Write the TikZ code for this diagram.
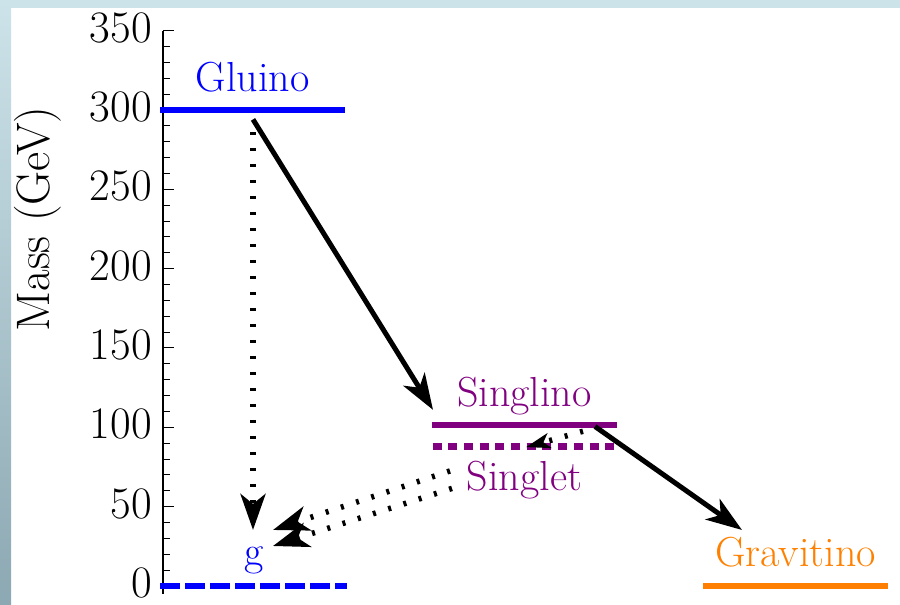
\documentclass[tikz,border=0pt]{standalone}
\usetikzlibrary{arrows.meta, positioning}
\definecolor{bandtop}{RGB}{205,227,234}
\definecolor{bandbot}{RGB}{140,168,178}
\definecolor{purp}{RGB}{128,0,128}
\definecolor{orng}{RGB}{255,128,0}
\tikzstyle{every node}=[font=\fontsize{42}{50}\selectfont, inner sep=2pt]
\tikzstyle{level}=[line width=6.5pt]
\tikzstyle{decay}=[-{Stealth[length=36pt,width=25pt,inset=10pt]}, line width=5pt]
\tikzstyle{mixing}=[decay, line width=5.5pt, dash pattern=on 3pt off 13pt]

\begin{document}
\begin{tikzpicture}[x=1pt,y=1pt]
    \useasboundingbox (0,0) rectangle (900,605);
    % frame
    \fill[bandtop] (0,597) rectangle (900,605);
    \shade[top color=bandtop, bottom color=bandbot] (0,0) rectangle (11,605);
    \node[rotate=90, font=\fontsize{47}{55}\selectfont] (ylabel) at (38,386) {Mass (GeV)};
    \begin{scope}[shift={(163,19)}, y=1.587pt]
    % axis
    \draw[line width=1.2pt] (0,-5) -- (0,350);
    \foreach \m in {0,10,...,350} \draw[line width=0.9pt] (0,\m) -- (7,\m);
    \foreach \m in {0,50,...,350} {
        \draw[line width=0.9pt] (0,\m) -- (11,\m);
        \node[anchor=east, yshift=3pt, font=\fontsize{45}{50}\selectfont] (tick\m) at (-9,\m) {\m};
    }
    % levels
    \draw[level, blue] (-3,300) -- (182,300);
    \draw[level, blue, dash pattern=on 20pt off 5pt] (-3,0) -- (184,0);
    \draw[level, purp] (269,101.4) -- (454,101.4);
    \draw[level, purp, dash pattern=on 9pt off 6.7pt] (269.5,88) -- (452,88);
    \draw[level, orng] (540,0) -- (725,0);
    \node[anchor=base, blue] (gluino) at (89.5,311.3) {Gluino};
    \node[anchor=base, blue] (gluon) at (91,13.2) {g};
    \node[anchor=base, purp] (singlino) at (361.5,113.4) {Singlino};
    \node[anchor=base, purp] (singlet) at (361.5,59.9) {Singlet};
    \node[anchor=base, orng] (gravitino) at (632.5,12.2) {Gravitino};
    % arrow ends
    \coordinate (gluinoout) at (90,294);
    \coordinate (gluinodot) at (90,286);
    \coordinate (gin) at (90,35.3);
    \coordinate (singlinoin) at (270,111);
    \coordinate (singlinoout) at (432,100.5);
    \coordinate (singlinodot) at (420,97.5);
    \coordinate (gravitinoin) at (579,35.3);
    \coordinate (singletin) at (363,87.5);
    \coordinate (singletouta) at (287,72.5);
    \coordinate (singletoutb) at (289,61.5);
    \coordinate (gina) at (110,35.3);
    \coordinate (ginb) at (110,25.2);
    % decays
    \draw[decay] (gluinoout) -- (singlinoin);
    \draw[mixing] (gluinodot) -- (gin);
    \draw[decay] (singlinoout) -- (gravitinoin);
    \draw[mixing, -{Stealth[length=24pt,width=15pt,inset=6pt]}] (singlinodot) -- (singletin);
    \draw[mixing] (singletouta) -- (gina);
    \draw[mixing] (singletoutb) -- (ginb);
    \end{scope}
\end{tikzpicture}
\end{document}
